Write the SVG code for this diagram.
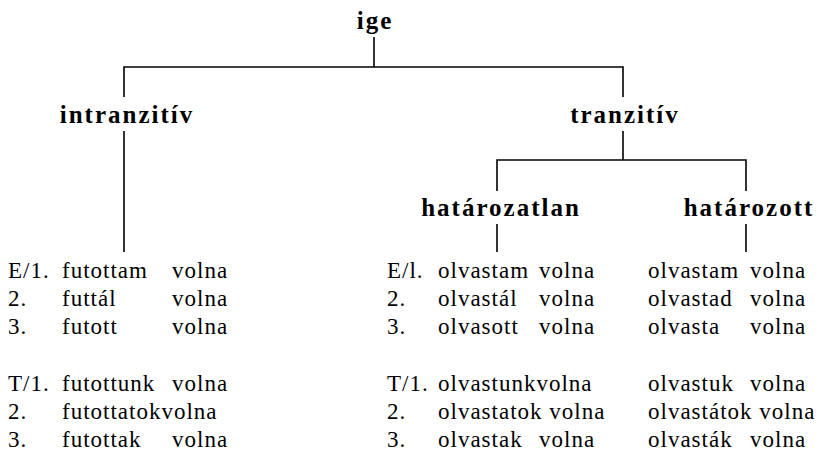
<svg xmlns="http://www.w3.org/2000/svg" width="828" height="466" viewBox="0 0 828 466">
<style>
.b{font-family:"Liberation Serif","Times New Roman",serif;font-weight:bold;font-size:25px;letter-spacing:2px;fill:#000}
.t{font-family:"Liberation Serif","Times New Roman",serif;font-size:23px;letter-spacing:1px;fill:#000}
.c{stroke:#000;stroke-width:1.6;fill:none}
</style>
<rect width="828" height="466" fill="#fff"/>
<g id="connectors" class="c">
<path d="M374 37V67M124 97V67H623V97"/>
<path d="M124 131V252"/>
<path d="M623 131V160M497 191V160H746V191"/>
<path d="M497 224V252M746 224V252"/>
</g>
<g id="ige"><text class="b" x="375" y="29" text-anchor="middle">ige</text></g>
<g id="intranzitiv"><text class="b" x="127" y="123" text-anchor="middle">intranzitív</text></g>
<g id="tranzitiv"><text class="b" x="625" y="123" text-anchor="middle">tranzitív</text></g>
<g id="hatarozatlan"><text class="b" x="501" y="216" text-anchor="middle">határozatlan</text></g>
<g id="hatarozott"><text class="b" x="749" y="216" text-anchor="middle">határozott</text></g>
<g id="intranzitiv-table" class="t">
<text x="8" y="278">E/1.</text><text x="62" y="278">futottam</text><text x="172" y="278">volna</text>
<text x="8" y="306">2.</text><text x="62" y="306">futtál</text><text x="172" y="306">volna</text>
<text x="8" y="334">3.</text><text x="62" y="334">futott</text><text x="172" y="334">volna</text>
<text x="8" y="391">T/1.</text><text x="62" y="391">futottunk</text><text x="172" y="391">volna</text>
<text x="8" y="419">2.</text><text x="62" y="419">futottatokvolna</text>
<text x="8" y="447">3.</text><text x="62" y="447">futottak</text><text x="172" y="447">volna</text>
</g>
<g id="hatarozatlan-table" class="t">
<text x="387" y="278">E/l.</text><text x="438" y="278">olvastam</text><text x="539" y="278">volna</text>
<text x="387" y="306">2.</text><text x="438" y="306">olvastál</text><text x="539" y="306">volna</text>
<text x="387" y="334">3.</text><text x="438" y="334">olvasott</text><text x="539" y="334">volna</text>
<text x="387" y="391">T/1.</text><text x="438" y="391">olvastunkvolna</text>
<text x="387" y="419">2.</text><text x="438" y="419">olvastatok volna</text>
<text x="387" y="447">3.</text><text x="438" y="447">olvastak</text><text x="539" y="447">volna</text>
</g>
<g id="hatarozott-table" class="t">
<text x="648" y="278">olvastam</text><text x="750" y="278">volna</text>
<text x="648" y="306">olvastad</text><text x="750" y="306">volna</text>
<text x="648" y="334">olvasta</text><text x="750" y="334">volna</text>
<text x="648" y="391">olvastuk</text><text x="750" y="391">volna</text>
<text x="648" y="419">olvastátok volna</text>
<text x="648" y="447">olvasták</text><text x="750" y="447">volna</text>
</g>
</svg>
